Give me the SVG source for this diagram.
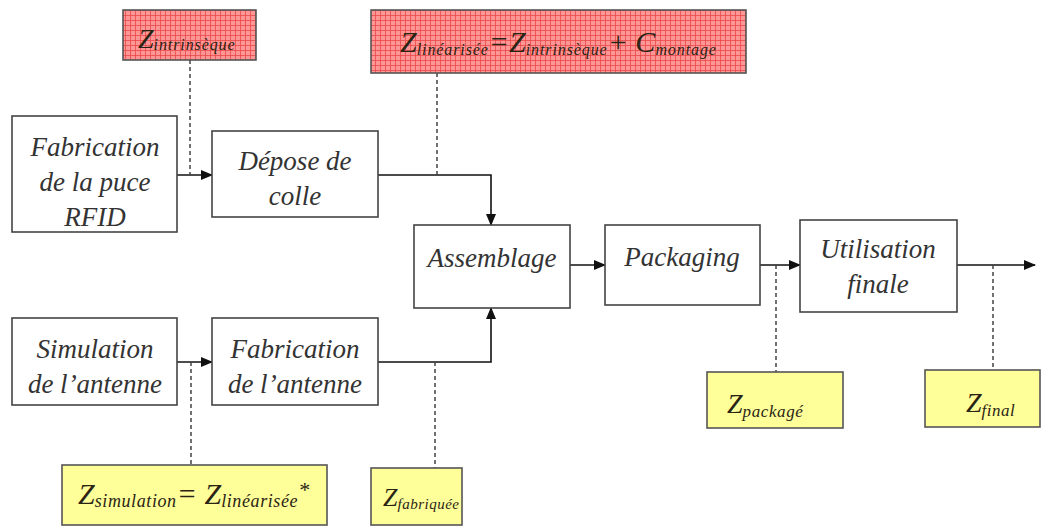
<svg xmlns="http://www.w3.org/2000/svg" width="1049" height="530" viewBox="0 0 1049 530">
<style>
.box{fill:#ffffff;stroke:#444;stroke-width:1.6}
.red{fill:url(#grid);stroke:#555;stroke-width:1.6}
.yel{fill:#ffff99;stroke:#555;stroke-width:1.6}
.t{font-family:"Liberation Serif",serif;font-style:italic;font-size:27px;fill:#333;text-anchor:middle}
.z{font-family:"Liberation Serif",serif;font-style:italic;fill:#2a2415}
.sub{font-size:16px;letter-spacing:0.9px}
.con{stroke:#111;stroke-width:1.6;fill:none}
.dot{stroke:#444;stroke-width:1.5;stroke-dasharray:4,3;fill:none}
</style>
<defs>
<pattern id="grid" width="5" height="5" patternUnits="userSpaceOnUse">
<rect width="5" height="5" fill="#ff9696"/>
<path d="M0 0.5H5M0.5 0V5" stroke="#e84848" stroke-width="0.8"/>
</pattern>
<marker id="ah" markerWidth="12" markerHeight="10" refX="11" refY="5" orient="auto" markerUnits="userSpaceOnUse">
<path d="M0 0L12 5L0 10Z" fill="#111"/>
</marker>
</defs>
<g id="connectors">
<line class="con" x1="177" y1="175" x2="212" y2="175" marker-end="url(#ah)"/>
<polyline class="con" points="378,175 491,175 491,225" marker-end="url(#ah)"/>
<line class="con" x1="177" y1="362" x2="212" y2="362" marker-end="url(#ah)"/>
<polyline class="con" points="378,362 491,362 491,308" marker-end="url(#ah)"/>
<line class="con" x1="570" y1="265" x2="605" y2="265" marker-end="url(#ah)"/>
<line class="con" x1="760" y1="265" x2="800" y2="265" marker-end="url(#ah)"/>
<line class="con" x1="957" y1="265" x2="1035" y2="265" marker-end="url(#ah)"/>
<line class="dot" x1="190" y1="60" x2="190" y2="175"/>
<line class="dot" x1="437" y1="73" x2="437" y2="175"/>
<line class="dot" x1="191" y1="362" x2="191" y2="465"/>
<line class="dot" x1="435" y1="362" x2="435" y2="468"/>
<line class="dot" x1="776" y1="265" x2="776" y2="372"/>
<line class="dot" x1="993" y1="265" x2="993" y2="370"/>
</g>
<g id="z-intrinseque">
<rect class="red" x="123" y="10" width="133" height="50"/>
<text class="z" x="138" y="48" font-size="28">Z<tspan class="sub" dy="2">intrinsèque</tspan></text>
</g>
<g id="z-linearisee">
<rect class="red" x="371" y="10" width="375" height="63"/>
<text class="z" x="400" y="52" font-size="30">Z<tspan class="sub" dy="3">linéarisée</tspan><tspan dy="-3">=Z</tspan><tspan class="sub" dy="3">intrinsèque</tspan><tspan dy="-3">+ C</tspan><tspan class="sub" dy="3">montage</tspan></text>
</g>
<g id="fab-puce">
<rect class="box" x="12" y="116" width="165" height="116"/>
<text class="t" x="95" y="156">Fabrication</text>
<text class="t" x="95" y="191">de la puce</text>
<text class="t" x="95" y="226">RFID</text>
</g>
<g id="depose">
<rect class="box" x="212" y="131" width="166" height="86"/>
<text class="t" x="295" y="170">Dépose de</text>
<text class="t" x="295" y="205">colle</text>
</g>
<g id="assemblage">
<rect class="box" x="414" y="225" width="156" height="83"/>
<text class="t" x="492" y="267">Assemblage</text>
</g>
<g id="packaging">
<rect class="box" x="605" y="225" width="155" height="80"/>
<text class="t" x="682" y="266">Packaging</text>
</g>
<g id="utilisation">
<rect class="box" x="800" y="220" width="157" height="92"/>
<text class="t" x="878" y="258">Utilisation</text>
<text class="t" x="878" y="293">finale</text>
</g>
<g id="simulation">
<rect class="box" x="12" y="318" width="165" height="87"/>
<text class="t" x="95" y="358">Simulation</text>
<text class="t" x="95" y="393">de l’antenne</text>
</g>
<g id="fab-antenne">
<rect class="box" x="212" y="318" width="166" height="87"/>
<text class="t" x="295" y="358">Fabrication</text>
<text class="t" x="295" y="393">de l’antenne</text>
</g>
<g id="z-simulation">
<rect class="yel" x="62" y="465" width="265" height="60"/>
<text class="z" x="78" y="504" font-size="30">Z<tspan font-size="18" letter-spacing="0.6" dy="3">simulation</tspan><tspan dy="-3">= Z</tspan><tspan font-size="18" letter-spacing="0.6" dy="3">linéarisée</tspan><tspan font-size="22" dy="-10">*</tspan></text>
</g>
<g id="z-fabriquee">
<rect class="yel" x="371" y="468" width="91" height="57"/>
<text class="z" x="383" y="506" font-size="26">Z<tspan font-size="15" letter-spacing="0.5" dy="3">fabriquée</tspan></text>
</g>
<g id="z-package">
<rect class="yel" x="707" y="372" width="136" height="56"/>
<text class="z" x="727" y="413" font-size="28">Z<tspan font-size="17" letter-spacing="0.6" dy="4">packagé</tspan></text>
</g>
<g id="z-final">
<rect class="yel" x="925" y="370" width="115" height="57"/>
<text class="z" x="966" y="412" font-size="28">Z<tspan font-size="17" letter-spacing="0.5" dy="4">final</tspan></text>
</g>
</svg>
